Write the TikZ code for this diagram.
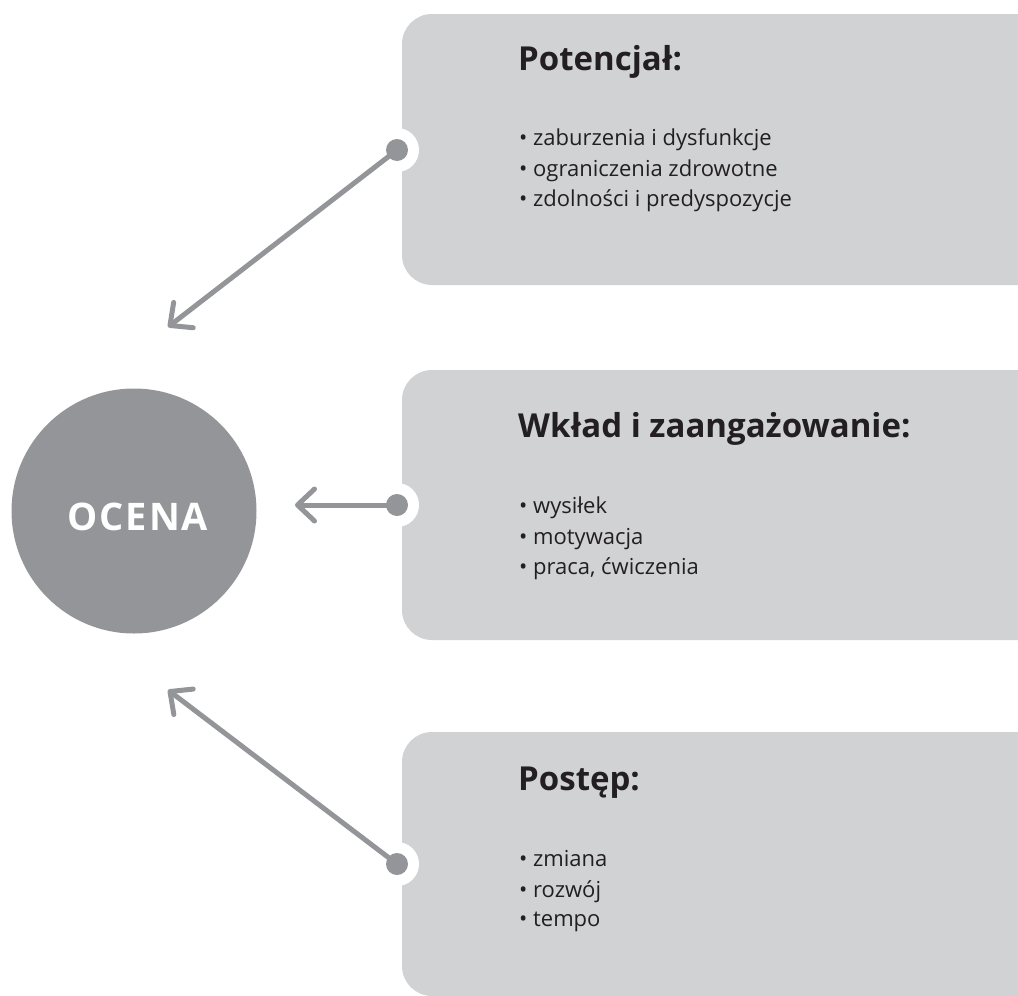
\documentclass[tikz,border=0pt]{standalone}
\usepackage{fontspec}
\setmainfont{Open Sans}
\usetikzlibrary{arrows.meta}

\definecolor{darkgray}{HTML}{939598}
\definecolor{lightgray}{HTML}{D1D2D4}
\definecolor{inkblack}{HTML}{231F20}

\tikzset{
  box/.style = {fill = lightgray, rounded corners = 30pt},
  notch/.style = {circle, fill = white, minimum size = 44pt, inner sep = 0pt},
  dot/.style = {circle, fill = darkgray, minimum size = 22pt, inner sep = 0pt},
  link/.style = {draw = darkgray, line width = 5pt, line cap = round,
    -{Straight Barb[length = 17pt, width = 32pt, line cap = round, line join = round]}},
  title/.style = {anchor = base west, inner sep = 0pt, text = inkblack,
    font = \fontsize{33}{38}\selectfont\bfseries},
  item/.style = {anchor = base west, inner sep = 0pt, text = inkblack,
    font = \fontsize{22}{30}\selectfont}
}

\begin{document}
\begin{tikzpicture}[x = 1pt, y = -1pt]
\useasboundingbox (0, 0) rectangle (1018, 996);
\clip (0, 0) rectangle (1018, 996);

\fill[box] (402, 14) rectangle (1080, 285);
\fill[box] (402, 370) rectangle (1080, 640);
\fill[box] (402, 732) rectangle (1080, 996);

\node[notch] at (397, 150) {};
\node[notch] at (397, 505) {};
\node[notch] at (397, 864) {};

\node[dot] (d1) at (397, 150) {};
\node[dot] (d2) at (397, 505) {};
\node[dot] (d3) at (397, 864) {};

\node[circle, fill = darkgray, minimum size = 245pt, inner sep = 0pt] (ocena) at (134, 511) {};
\node[anchor = base, text = white, font = \fontsize{38}{42}\selectfont\bfseries\addfontfeatures{LetterSpace = 5}]
  (ocenatxt) at (138, 530) {OCENA};

\coordinate (t1) at (168, 327);
\coordinate (t2) at (295, 505);
\coordinate (t3) at (168, 690);

\draw[link] (d1.center) -- (t1);
\draw[link] (d2.center) -- (t2);
\draw[link] (d3.center) -- (t3);

\node[title] (pot) at (518, 70) {Potencjał:};
\node[item] (pot1) at (519, 145) {• zaburzenia i dysfunkcje};
\node[item] (pot2) at (519, 176) {• ograniczenia zdrowotne};
\node[item] (pot3) at (519, 206) {• zdolności i predyspozycje};

\node[title] (wkl) at (518, 437) {Wkład i zaangażowanie:};
\node[item] (wkl1) at (519, 513) {• wysiłek};
\node[item] (wkl2) at (519, 544) {• motywacja};
\node[item] (wkl3) at (519, 574) {• praca, ćwiczenia};

\node[title] (pos) at (518, 790) {Postęp:};
\node[item] (pos1) at (519, 866) {• zmiana};
\node[item] (pos2) at (519, 897) {• rozwój};
\node[item] (pos3) at (519, 926) {• tempo};
\end{tikzpicture}
\end{document}
